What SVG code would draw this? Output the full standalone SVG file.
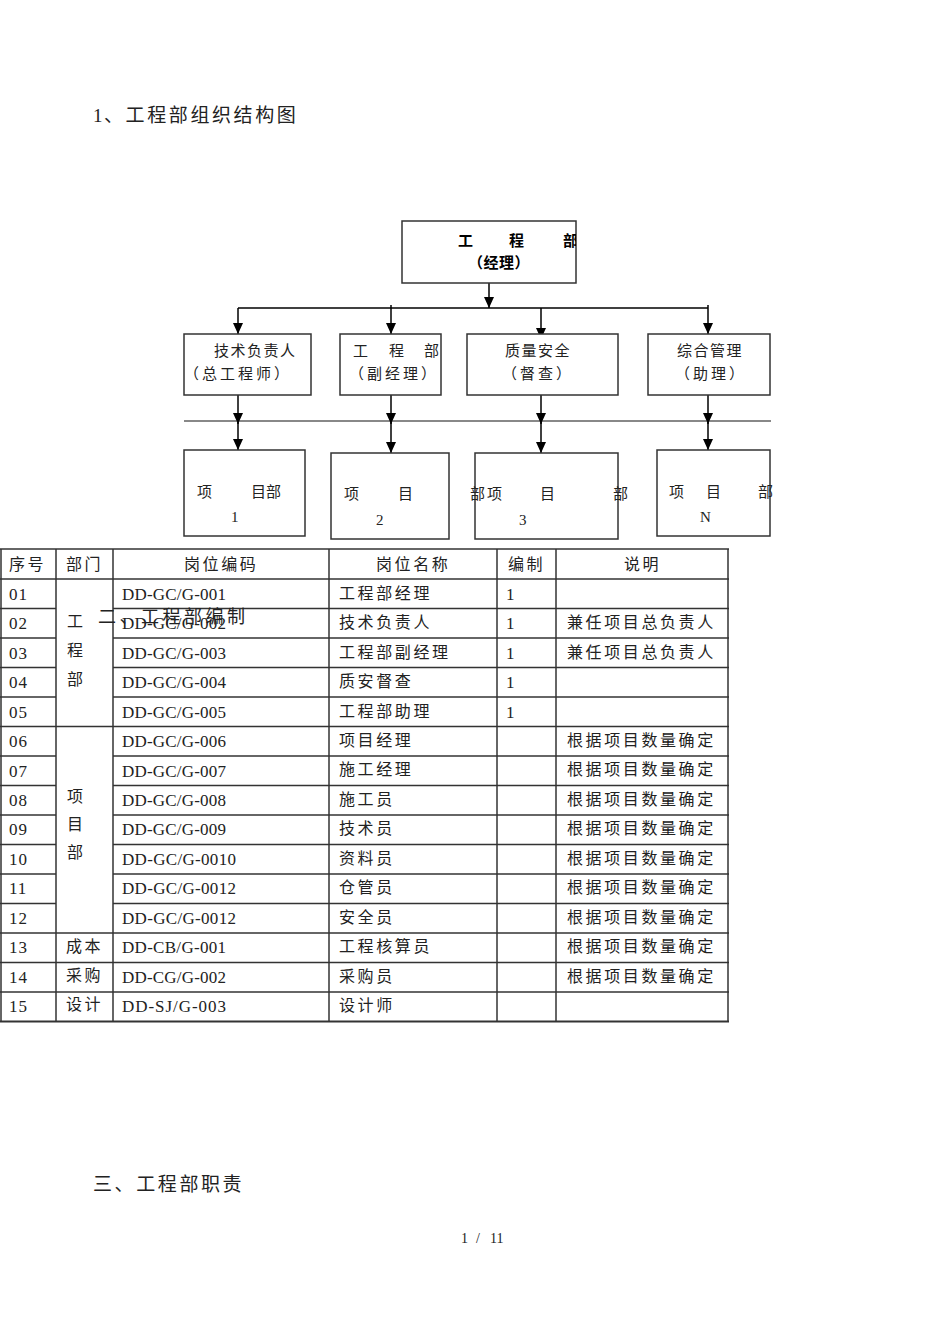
<svg xmlns="http://www.w3.org/2000/svg" width="950" height="1344" viewBox="0 0 950 1344">
<style>
.cj{font-family:"Noto Sans CJK SC","Noto Sans",sans-serif;fill:#222}
.t{font-size:16px;letter-spacing:2.6px}
.h{font-size:19px;letter-spacing:2.6px}
.oc{font-size:15px;letter-spacing:1.5px}
.op{font-size:15px;letter-spacing:3px}
.ob{font-size:15px;font-weight:bold;fill:#000}
.num{font-family:"Liberation Serif",serif;font-size:17px;fill:#222}
.ser{font-family:"Liberation Serif",serif;fill:#222}
.box{fill:#fff;stroke:#333;stroke-width:1.5}
.con{stroke:#000;stroke-width:1.5;fill:none}
.grid{stroke:#333;stroke-width:1.5}
</style>
<defs>
<marker id="ah" markerUnits="userSpaceOnUse" markerWidth="12" markerHeight="12" refX="11" refY="5" orient="auto">
<path d="M0,0 L11,5 L0,10 z" fill="#000"/>
</marker>
<clipPath id="cTop"><rect x="402" y="221" width="174" height="62"/></clipPath>
</defs>
<rect width="950" height="1344" fill="#fff"/>

<g id="heading1">
<text class="ser" x="93" y="122" font-size="19">1</text>
<text class="cj h" x="104" y="122" letter-spacing="3">、工程部组织结构图</text>
</g>

<g id="connectors">
<line class="con" x1="489" y1="283" x2="489" y2="308" marker-end="url(#ah)"/>
<line class="con" x1="238" y1="308" x2="708" y2="308"/>
<line class="con" x1="238" y1="308" x2="238" y2="334" marker-end="url(#ah)"/>
<line class="con" x1="391" y1="305" x2="391" y2="334" marker-end="url(#ah)"/>
<line class="con" x1="541" y1="308" x2="541" y2="339" marker-end="url(#ah)"/>
<line class="con" x1="708" y1="305" x2="708" y2="334" marker-end="url(#ah)"/>
<line x1="184" y1="421" x2="771" y2="421" stroke="#888" stroke-width="2"/>
<line class="con" x1="238" y1="395" x2="238" y2="424" marker-end="url(#ah)"/>
<line class="con" x1="238" y1="421" x2="238" y2="450" marker-end="url(#ah)"/>
<line class="con" x1="391" y1="395" x2="391" y2="424" marker-end="url(#ah)"/>
<line class="con" x1="391" y1="421" x2="391" y2="453" marker-end="url(#ah)"/>
<line class="con" x1="541" y1="395" x2="541" y2="424" marker-end="url(#ah)"/>
<line class="con" x1="541" y1="421" x2="541" y2="453" marker-end="url(#ah)"/>
<line class="con" x1="708" y1="393" x2="708" y2="424" marker-end="url(#ah)"/>
<line class="con" x1="708" y1="421" x2="708" y2="450" marker-end="url(#ah)"/>
</g>

<g id="n-top">
<rect class="box" x="402" y="221" width="174" height="62"/>
<g clip-path="url(#cTop)">
<text class="cj ob" x="458 509 563" y="246">工程部</text>
</g>
<text class="cj ob" x="468" y="268" letter-spacing="0.5">（经理）</text>
</g>

<g id="n-tech">
<rect class="box" x="184" y="334" width="127" height="61"/>
<text class="cj oc" x="214" y="356">技术负责人</text>
<text class="cj op" x="184" y="379">（总工程师）</text>
</g>
<g id="n-deputy">
<rect class="box" x="340" y="334" width="101" height="61"/>
<text class="cj oc" x="353 389 424" y="356">工程部</text>
<text class="cj op" x="349" y="379">（副经理）</text>
</g>
<g id="n-quality">
<rect class="box" x="467" y="334" width="151" height="61"/>
<text class="cj oc" x="505" y="356">质量安全</text>
<text class="cj op" x="502" y="379">（督查）</text>
</g>
<g id="n-admin">
<rect class="box" x="648" y="334" width="122" height="61"/>
<text class="cj oc" x="677" y="356">综合管理</text>
<text class="cj op" x="675" y="379">（助理）</text>
</g>

<g id="n-p1">
<rect class="box" x="184" y="450" width="121" height="86"/>
<text class="cj oc" x="197 251 266" y="497">项目部</text>
<text class="ser" x="231" y="522" font-size="15">1</text>
</g>
<g id="n-p2">
<rect class="box" x="331" y="453" width="118" height="86"/>
<text class="cj oc" x="344 398" y="499">项目</text>
<text class="ser" x="376" y="525" font-size="15">2</text>
</g>
<g id="n-p3">
<rect class="box" x="475" y="453" width="143" height="86"/>
<text class="cj oc" x="470 487 540 613" y="499">部项目部</text>
<text class="ser" x="519" y="525" font-size="15">3</text>
</g>
<g id="n-pN">
<rect class="box" x="657" y="450" width="113" height="86"/>
<text class="cj oc" x="669 706 758" y="497">项目部</text>
<text class="ser" x="700" y="522" font-size="15">N</text>
</g>

<g id="table">
<g class="grid">
<line x1="0" y1="549" x2="729" y2="549"/>
<line x1="0" y1="579" x2="729" y2="579"/>
<line x1="0" y1="608.5" x2="56" y2="608.5"/><line x1="113" y1="608.5" x2="729" y2="608.5"/>
<line x1="0" y1="638" x2="56" y2="638"/><line x1="113" y1="638" x2="729" y2="638"/>
<line x1="0" y1="667.5" x2="56" y2="667.5"/><line x1="113" y1="667.5" x2="729" y2="667.5"/>
<line x1="0" y1="697" x2="56" y2="697"/><line x1="113" y1="697" x2="729" y2="697"/>
<line x1="0" y1="726.5" x2="729" y2="726.5"/>
<line x1="0" y1="756" x2="56" y2="756"/><line x1="113" y1="756" x2="729" y2="756"/>
<line x1="0" y1="785.5" x2="56" y2="785.5"/><line x1="113" y1="785.5" x2="729" y2="785.5"/>
<line x1="0" y1="815" x2="56" y2="815"/><line x1="113" y1="815" x2="729" y2="815"/>
<line x1="0" y1="844.5" x2="56" y2="844.5"/><line x1="113" y1="844.5" x2="729" y2="844.5"/>
<line x1="0" y1="874" x2="56" y2="874"/><line x1="113" y1="874" x2="729" y2="874"/>
<line x1="0" y1="903.5" x2="56" y2="903.5"/><line x1="113" y1="903.5" x2="729" y2="903.5"/>
<line x1="0" y1="933" x2="729" y2="933"/>
<line x1="0" y1="962.5" x2="729" y2="962.5"/>
<line x1="0" y1="992" x2="729" y2="992"/>
<line x1="0" y1="1021.5" x2="729" y2="1021.5" stroke-width="2"/>
<line x1="1" y1="549" x2="1" y2="1022"/>
<line x1="56" y1="549" x2="56" y2="1022"/>
<line x1="113" y1="549" x2="113" y2="1022"/>
<line x1="329" y1="549" x2="329" y2="1022"/>
<line x1="497" y1="549" x2="497" y2="1022"/>
<line x1="556" y1="549" x2="556" y2="1022"/>
<line x1="728" y1="549" x2="728" y2="1022"/>
</g>
<g class="cj t">
<text x="9" y="570">序号</text>
<text x="66" y="570">部门</text>
<text x="184" y="570">岗位编码</text>
<text x="376" y="570">岗位名称</text>
<text x="508" y="570">编制</text>
<text x="624" y="570">说明</text>
<text x="67" y="627">工</text>
<text x="67" y="656">程</text>
<text x="67" y="685">部</text>
<text x="67" y="802">项</text>
<text x="67" y="830">目</text>
<text x="67" y="858">部</text>
<text x="66" y="952">成本</text>
<text x="66" y="981">采购</text>
<text x="66" y="1010">设计</text>
<text x="339" y="599">工程部经理</text>
<text x="339" y="628">技术负责人</text>
<text x="339" y="658">工程部副经理</text>
<text x="339" y="687">质安督查</text>
<text x="339" y="717">工程部助理</text>
<text x="339" y="746">项目经理</text>
<text x="339" y="775">施工经理</text>
<text x="339" y="805">施工员</text>
<text x="339" y="834">技术员</text>
<text x="339" y="864">资料员</text>
<text x="339" y="893">仓管员</text>
<text x="339" y="923">安全员</text>
<text x="339" y="952">工程核算员</text>
<text x="339" y="982">采购员</text>
<text x="339" y="1011">设计师</text>
<text x="567" y="628">兼任项目总负责人</text>
<text x="567" y="658">兼任项目总负责人</text>
<text x="567" y="746">根据项目数量确定</text>
<text x="567" y="775">根据项目数量确定</text>
<text x="567" y="805">根据项目数量确定</text>
<text x="567" y="834">根据项目数量确定</text>
<text x="567" y="864">根据项目数量确定</text>
<text x="567" y="893">根据项目数量确定</text>
<text x="567" y="923">根据项目数量确定</text>
<text x="567" y="952">根据项目数量确定</text>
<text x="567" y="982">根据项目数量确定</text>
</g>
<g class="num" letter-spacing="1">
<text x="9" y="600">01</text>
<text x="9" y="629">02</text>
<text x="9" y="659">03</text>
<text x="9" y="688">04</text>
<text x="9" y="718">05</text>
<text x="9" y="747">06</text>
<text x="9" y="777">07</text>
<text x="9" y="806">08</text>
<text x="9" y="835">09</text>
<text x="9" y="865">10</text>
<text x="9" y="894">11</text>
<text x="9" y="924">12</text>
<text x="9" y="953">13</text>
<text x="9" y="983">14</text>
<text x="9" y="1012">15</text>
</g>
<g class="num">
<text x="122" y="600" textLength="104" lengthAdjust="spacing">DD-GC/G-001</text>
<text x="122" y="629" textLength="104" lengthAdjust="spacing">DD-GC/G-002</text>
<text x="122" y="659" textLength="104" lengthAdjust="spacing">DD-GC/G-003</text>
<text x="122" y="688" textLength="104" lengthAdjust="spacing">DD-GC/G-004</text>
<text x="122" y="718" textLength="104" lengthAdjust="spacing">DD-GC/G-005</text>
<text x="122" y="747" textLength="104" lengthAdjust="spacing">DD-GC/G-006</text>
<text x="122" y="777" textLength="104" lengthAdjust="spacing">DD-GC/G-007</text>
<text x="122" y="806" textLength="104" lengthAdjust="spacing">DD-GC/G-008</text>
<text x="122" y="835" textLength="104" lengthAdjust="spacing">DD-GC/G-009</text>
<text x="122" y="865" textLength="114" lengthAdjust="spacing">DD-GC/G-0010</text>
<text x="122" y="894" textLength="114" lengthAdjust="spacing">DD-GC/G-0012</text>
<text x="122" y="924" textLength="114" lengthAdjust="spacing">DD-GC/G-0012</text>
<text x="122" y="953" textLength="104" lengthAdjust="spacing">DD-CB/G-001</text>
<text x="122" y="983" textLength="104" lengthAdjust="spacing">DD-CG/G-002</text>
<text x="122" y="1012" textLength="104" lengthAdjust="spacing">DD-SJ/G-003</text>
<text x="506" y="600">1</text>
<text x="506" y="629">1</text>
<text x="506" y="659">1</text>
<text x="506" y="688">1</text>
<text x="506" y="718">1</text>
</g>
</g>

<g id="heading2">
<text class="cj" x="98" y="623" font-size="18" letter-spacing="3.5" fill="#333">二、工程部编制</text>
</g>

<g id="heading3">
<text class="cj h" x="93" y="1191" letter-spacing="3">三、工程部职责</text>
</g>

<g id="page-number">
<text class="ser" x="461 476 490" y="1243" font-size="14">1/<tspan x="490">11</tspan></text>
</g>
</svg>
